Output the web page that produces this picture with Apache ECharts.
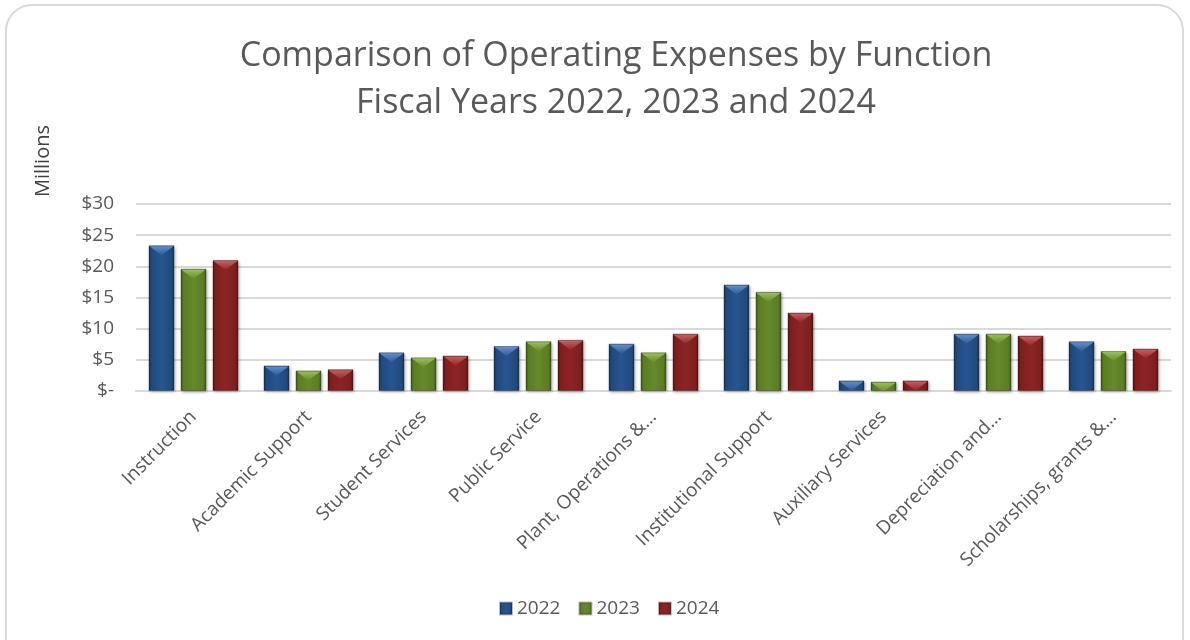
<!DOCTYPE html>
<html>
<head>
<meta charset="utf-8">
<script src="https://cdn.jsdelivr.net/npm/echarts@6/dist/echarts.min.js"></script>
<style>
  html, body { margin: 0; padding: 0; background: #ffffff; }
  #chart { width: 1190px; height: 640px; }
</style>
</head>
<body>
<div id="chart"></div>
<script>
// Operating expenses by function, in millions of dollars
const categories = [
  'Instruction', 'Academic Support', 'Student Services', 'Public Service',
  'Plant, Operations &\u2026', 'Institutional Support', 'Auxiliary Services',
  'Depreciation and\u2026', 'Scholarships, grants &\u2026'
];
const years = ['2022', '2023', '2024'];
const fy2022 = [23.4, 4.1, 6.2, 7.2, 7.6, 17.1, 1.7, 9.2, 8.0];
const fy2023 = [19.6, 3.3, 5.4, 8.0, 6.2, 15.9, 1.5, 9.2, 6.4];
const fy2024 = [21.0, 3.5, 5.7, 8.2, 9.2, 12.6, 1.7, 8.9, 6.8];
const yTicks = [0, 5, 10, 15, 20, 25, 30];

const font = '"Open Sans", "Noto Sans", sans-serif';
const textColor = '#595959';
const BAR_W = 26;
const BAR_GAP = 6;

// bevelled bar fill: dark edges, lighter body
function barFill(edge, mid, light) {
  return new echarts.graphic.LinearGradient(0, 0, 1, 0, [
    { offset: 0, color: edge },
    { offset: 0.12, color: mid },
    { offset: 0.5, color: light },
    { offset: 0.88, color: mid },
    { offset: 1, color: edge }
  ]);
}
const palette = [
  barFill('#163558', '#214a7c', '#275591'),
  barFill('#3f5a17', '#5b7d24', '#67892b'),
  barFill('#5a1414', '#7f1f1f', '#8c2424')
];
const legendColors = ['#24508a', '#628528', '#872222'];
const capColors = [
  ['#6d9ad6', '#2f5c98'],
  ['#a6c864', '#668c2c'],
  ['#d26a6a', '#932a2a']
];

function makeSeries(name, data, idx) {
  return {
    name: name,
    type: 'bar',
    data: data,
    barWidth: BAR_W,
    barGap: (BAR_GAP / BAR_W * 100) + '%',
    color: legendColors[idx],
    itemStyle: {
      color: palette[idx],
      borderColor: 'rgba(0,0,0,0.25)',
      borderWidth: 1,
      shadowColor: 'rgba(0,0,0,0.35)',
      shadowBlur: 3,
      shadowOffsetX: 1,
      shadowOffsetY: 1
    }
  };
}

// light bevel triangle on top of each bar
function makeCap(data, idx) {
  const offset = (idx - 1) * (BAR_W + BAR_GAP);
  return {
    name: 'cap' + years[idx],
    type: 'custom',
    data: data.map((v, i) => [i, v]),
    z: 3,
    silent: true,
    renderItem: function (params, api) {
      const p = api.coord([api.value(0), api.value(1)]);
      const cx = p[0] + offset;
      const top = p[1] + 1;
      const half = BAR_W / 2 - 1;
      const h = 9;
      return {
        type: 'polygon',
        shape: { points: [[cx - half, top], [cx + half, top], [cx, top + h]] },
        style: {
          fill: new echarts.graphic.LinearGradient(0, 0, 0, 1, [
            { offset: 0, color: capColors[idx][0] },
            { offset: 1, color: capColors[idx][1] }
          ]),
          opacity: 0.85
        }
      };
    }
  };
}

const chart = echarts.init(document.getElementById('chart'));
chart.setOption({
  animation: false,
  backgroundColor: '#ffffff',
  title: {
    text: 'Comparison of Operating Expenses by Function\nFiscal Years 2022, 2023 and 2024',
    left: 611,
    textAlign: 'center',
    top: 28,
    textStyle: {
      fontFamily: font,
      fontWeight: 'normal',
      fontSize: 34,
      lineHeight: 47,
      color: textColor
    }
  },
  graphic: [
    {
      type: 'rect',
      shape: { x: 6, y: 5, width: 1177, height: 680, r: 26 },
      style: { fill: 'none', stroke: '#d9d9d9', lineWidth: 2 },
      z: 0
    },
    {
      type: 'text',
      left: 33,
      top: 125,
      rotation: Math.PI / 2,
      style: {
        text: 'Millions',
        fontFamily: font,
        fontSize: 20,
        fill: '#404040'
      }
    }
  ],
  legend: {
    data: years,
    bottom: 17,
    left: 494,
    icon: 'rect',
    itemWidth: 12,
    itemHeight: 12,
    itemGap: 18,
    textStyle: { fontFamily: font, fontSize: 19, color: textColor }
  },
  grid: { left: 136, right: 19, top: 204, bottom: 249 },
  xAxis: {
    type: 'category',
    data: categories,
    axisTick: { show: false },
    axisLine: { lineStyle: { color: '#d9d9d9', width: 2 } },
    axisLabel: {
      interval: 0,
      rotate: 45,
      margin: 23,
      fontFamily: font,
      fontSize: 19,
      color: textColor
    }
  },
  yAxis: {
    type: 'value',
    min: yTicks[0],
    max: yTicks[yTicks.length - 1],
    interval: 5,
    axisLine: { show: false },
    axisTick: { show: false },
    splitLine: { lineStyle: { color: '#d9d9d9', width: 2 } },
    axisLabel: {
      margin: 22,
      fontFamily: font,
      fontSize: 19,
      color: textColor,
      formatter: v => v === 0 ? '$-' : '$' + v
    }
  },
  series: [
    makeSeries(years[0], fy2022, 0),
    makeSeries(years[1], fy2023, 1),
    makeSeries(years[2], fy2024, 2),
    makeCap(fy2022, 0),
    makeCap(fy2023, 1),
    makeCap(fy2024, 2)
  ]
});
</script>
</body>
</html>
